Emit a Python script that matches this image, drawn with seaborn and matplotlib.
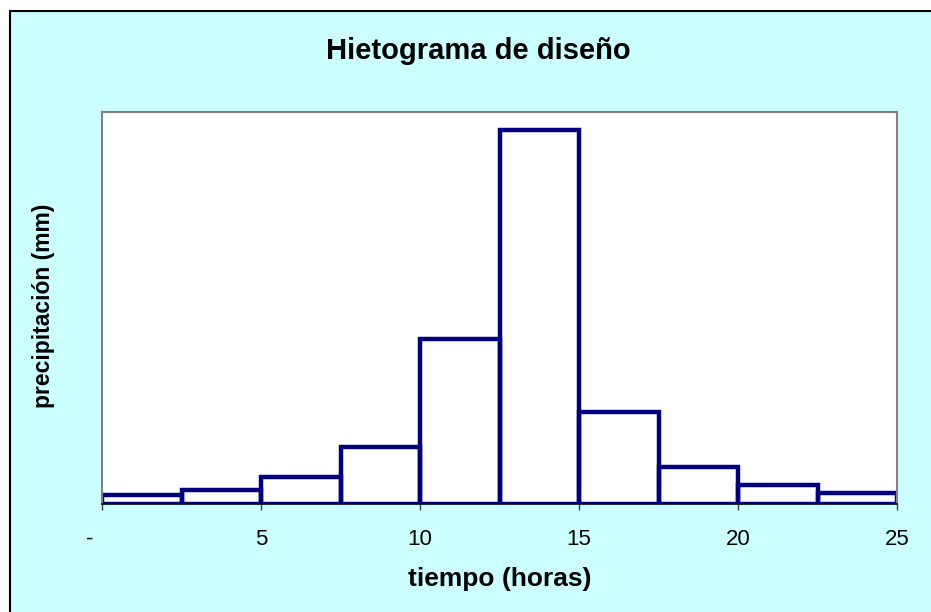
import numpy as np
import pandas as pd
import seaborn as sns
import matplotlib.pyplot as plt
import matplotlib.patches as patches
from matplotlib.transforms import ScaledTranslation

# design hyetograph: 2.5 h blocks
bin_edges = [0, 2.5, 5, 7.5, 10, 12.5, 15, 17.5, 20, 22.5, 25]
precip_mm = [0.92, 1.39, 2.71, 5.77, 16.85, 38.16, 9.34, 3.73, 1.97, 1.12]
tick_pos = [0, 5, 10, 15, 20, 25]
tick_labels = ['-', '5', '10', '15', '20', '25']

df = pd.DataFrame({
    'tiempo': [(a + b) / 2 for a, b in zip(bin_edges[:-1], bin_edges[1:])],
    'precip': precip_mm,
})

sns.set_style('white')
plt.rcParams['font.family'] = ['Liberation Sans', 'DejaVu Sans']
plt.rcParams['text.color'] = 'black'
plt.rcParams['xtick.color'] = 'black'

fig = plt.figure(figsize=(9.31, 6.12), dpi=100, facecolor='white')

# chart area (cyan panel with black frame)
bg = patches.Rectangle((10 / 931, -0.01), 1.0, 1 - 11 / 612 + 0.01,
                       transform=fig.transFigure, facecolor='#CCFFFF',
                       edgecolor='black', linewidth=1.5, zorder=-10)
fig.patches.append(bg)

ax = fig.add_axes([102 / 931, 108 / 612, 795 / 931, 392 / 612])
ax.set_facecolor('white')

sns.histplot(data=df, x='tiempo', weights='precip', bins=bin_edges,
             fill=False, color='#000080', linewidth=3.2, element='bars',
             ax=ax)

ax.set_xlim(0, 25)
ax.set_ylim(0, 40)
ax.set_xticks(tick_pos)
ax.set_xticklabels(tick_labels, fontsize=16, color='black')
ax.set_yticks([])
ax.tick_params(axis='x', direction='out', length=4, width=1, color='#404040',
               pad=14, bottom=True)
ax.set_xlabel('')
ax.set_ylabel('')

for side in ['left', 'top', 'right']:
    ax.spines[side].set_color('#808080')
    ax.spines[side].set_linewidth(1.5)
ax.spines['bottom'].set_color('black')
ax.spines['bottom'].set_linewidth(1.2)
ax.spines['bottom'].set_zorder(5)

# the "-" label for zero sits left of its tick
lbl0 = ax.get_xticklabels()[0]
lbl0.set_transform(lbl0.get_transform() + ScaledTranslation(-12 / 100, 0, fig.dpi_scale_trans))

fig.text(478 / 931, 1 - 51 / 612, 'Hietograma de diseño', ha='center', va='center',
         fontsize=21, fontweight='bold', color='black')
fig.text(500 / 931, 1 - 579 / 612, 'tiempo (horas)', ha='center', va='center',
         fontsize=19, fontweight='bold', color='black')
fig.text(44 / 931, 1 - 306 / 612, 'precipitación (mm)', ha='center', va='center',
         rotation=90, fontsize=16.5, fontweight='bold', color='black')

plt.savefig('out.png', dpi=100, facecolor=fig.get_facecolor())
